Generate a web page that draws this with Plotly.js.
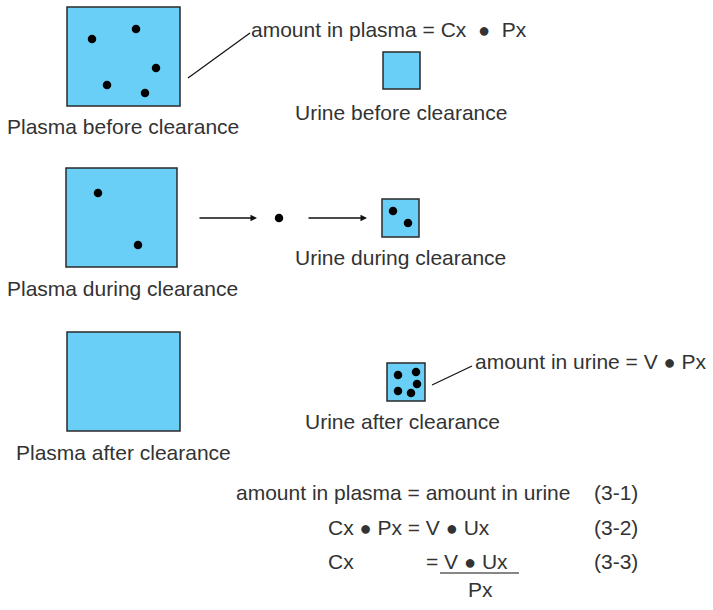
<!DOCTYPE html>
<html><head><meta charset="utf-8">
<script src="https://cdn.plot.ly/plotly-3.0.1.min.js"></script>
<style>html,body{margin:0;padding:0;background:#fff}</style>
</head><body><div id="chart" style="width:713px;height:610px"></div>
<script>
// ---- data (diagram coordinates, y grows downward) ----
const plasmaBeforeX = [92, 136, 156, 107, 145];
const plasmaBeforeY = [39, 29, 68, 85, 93];
const plasmaDuringX = [98, 138];
const plasmaDuringY = [193, 245];
const transitX = [279];
const transitY = [218];
const urineDuringX = [393, 408];
const urineDuringY = [211, 223];
const urineAfterX = [398, 416, 417, 398, 411];
const urineAfterY = [375, 372, 384, 391, 393];

const B = '<span style="font-size:20px">\u25CF</span>';
const boxLabels = ["Plasma before clearance", "Urine before clearance",
                   "Plasma during clearance", "Urine during clearance",
                   "Plasma after clearance", "Urine after clearance"];
const noteTexts = ["amount in plasma = Cx \u00A0" + B + "\u00A0 Px", "amount in urine = V " + B + " Px"];
const eqTexts = ["amount in plasma = amount in urine", "Cx " + B + " Px = V " + B + " Ux", "Cx", "= V " + B + " Ux", "Px"];
const eqNumbers = ["(3-1)", "(3-2)", "(3-3)"];

// ---- layout geometry ----
const boxes = [
  [67, 7, 180, 106], [383, 52, 420, 89],
  [66, 168, 177, 267], [382, 199, 419, 237],
  [67, 332, 180, 431], [387, 363, 425, 401]
];
const labelPos = [[123, 126], [401, 112], [122, 288], [400, 257], [123, 452], [402, 421]];
const FILL = "#6acff6", EDGE = "#2a2a2a", TXT = "#333333";
const FONT = "Liberation Sans, Arial, Helvetica, sans-serif";
const FS = 21;

const shapes = boxes.map(b => ({type: "rect", xref: "x", yref: "y", x0: b[0], y0: b[1], x1: b[2], y1: b[3],
  fillcolor: FILL, line: {color: EDGE, width: 1.5}, layer: "below"}));
shapes.push({type: "line", x0: 188, y0: 78, x1: 250, y1: 33, line: {color: "#111", width: 1.2}});
shapes.push({type: "line", x0: 432, y0: 385, x1: 472, y1: 366, line: {color: "#111", width: 1.2}});
shapes.push({type: "line", x0: 440, y0: 573, x1: 519, y1: 573, line: {color: "#111", width: 1.2}});

const ann = [];
boxLabels.forEach((t, i) => ann.push({x: labelPos[i][0], y: labelPos[i][1], text: t, showarrow: false,
  xanchor: "center", yanchor: "middle", font: {family: FONT, size: FS, color: TXT}}));
ann.push({x: 249, y: 29, text: noteTexts[0], showarrow: false, xanchor: "left", yanchor: "middle",
  font: {family: FONT, size: FS, color: TXT}});
ann.push({x: 473, y: 361, text: noteTexts[1], showarrow: false, xanchor: "left", yanchor: "middle",
  font: {family: FONT, size: FS, color: TXT}});
// arrows
ann.push({x: 257, y: 218, ax: 198, ay: 218, axref: "x", ayref: "y", text: "", showarrow: true,
  arrowhead: 2, arrowsize: 1, arrowwidth: 1.3, arrowcolor: "#111"});
ann.push({x: 367, y: 218, ax: 307, ay: 218, axref: "x", ayref: "y", text: "", showarrow: true,
  arrowhead: 2, arrowsize: 1, arrowwidth: 1.3, arrowcolor: "#111"});
// equations
const eqPos = [[234, 492, "left"], [326, 527, "left"], [326, 561, "left"], [424, 561, "left"], [480, 589, "center"]];
eqTexts.forEach((t, i) => ann.push({x: eqPos[i][0], y: eqPos[i][1], text: t, showarrow: false,
  xanchor: eqPos[i][2], yanchor: "middle", font: {family: FONT, size: FS, color: TXT}}));
const numY = [492, 527, 561];
eqNumbers.forEach((t, i) => ann.push({x: 592, y: numY[i], text: t, showarrow: false,
  xanchor: "left", yanchor: "middle", font: {family: FONT, size: FS, color: TXT}}));

const dot = {color: "#000", size: 8.5};
const traces = [
  [plasmaBeforeX, plasmaBeforeY], [plasmaDuringX, plasmaDuringY], [transitX, transitY],
  [urineDuringX, urineDuringY], [urineAfterX, urineAfterY]
].map(p => ({x: p[0], y: p[1], type: "scatter", mode: "markers", marker: dot, hoverinfo: "skip", showlegend: false}));

Plotly.newPlot("chart", traces, {
  width: 713, height: 610, margin: {l: 0, r: 0, t: 0, b: 0},
  paper_bgcolor: "#fff", plot_bgcolor: "#fff", showlegend: false,
  xaxis: {range: [0, 713], visible: false, fixedrange: true},
  yaxis: {range: [610, 0], visible: false, fixedrange: true},
  shapes: shapes, annotations: ann
}, {staticPlot: true});
</script></body></html>
